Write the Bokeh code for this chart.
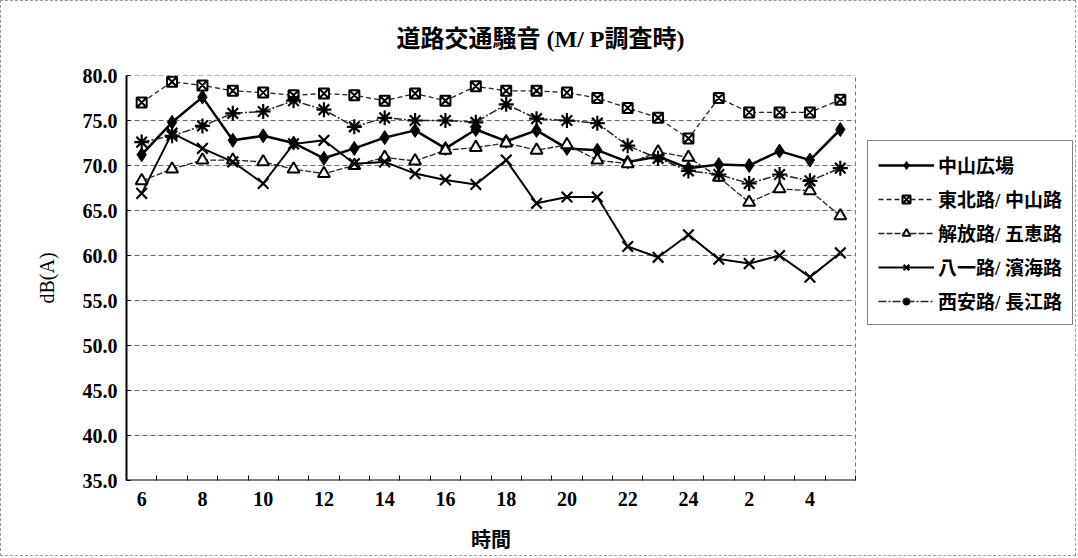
from bokeh.plotting import figure
from bokeh.models import FixedTicker, Legend, LegendItem, NumeralTickFormatter, LinearAxis
from bokeh.embed import file_html
from bokeh.resources import INLINE

hours = ["6", "7", "8", "9", "10", "11", "12", "13", "14", "15", "16", "17", "18",
         "19", "20", "21", "22", "23", "24", "1", "2", "3", "4", "5"]

chuzan = [71.2, 74.8, 77.6, 72.8, 73.3, 72.5, 70.8, 71.9, 73.1, 73.9, 71.9, 74.0,
          72.7, 73.9, 71.9, 71.7, 70.4, 71.0, 69.7, 70.1, 70.0, 71.6, 70.6, 74.0]
tohoku = [77.0, 79.3, 78.9, 78.3, 78.1, 77.8, 78.0, 77.8, 77.2, 78.0, 77.2, 78.8,
          78.3, 78.3, 78.1, 77.5, 76.4, 75.3, 73.0, 77.5, 75.9, 75.9, 75.9, 77.3]
kaiho = [68.3, 69.6, 70.6, 70.6, 70.4, 69.6, 69.1, 70.0, 70.9, 70.5, 71.7, 72.0,
         72.5, 71.7, 72.3, 70.6, 70.2, 71.5, 70.9, 68.7, 65.9, 67.4, 67.2, 64.4]
hachiichi = [66.9, 73.6, 71.9, 70.4, 68.0, 72.4, 72.8, 70.2, 70.4, 69.1, 68.4, 67.9,
             70.6, 65.8, 66.5, 66.5, 61.0, 59.8, 62.3, 59.6, 59.1, 60.0, 57.6, 60.3]
seian = [72.6, 73.3, 74.4, 75.8, 76.0, 77.2, 76.2, 74.3, 75.3, 75.0, 75.0, 74.8,
         76.8, 75.2, 75.0, 74.7, 72.2, 70.8, 69.4, 69.0, 68.0, 69.0, 68.3, 69.7]

series_names = ["中山広場", "東北路/ 中山路", "解放路/ 五恵路", "八一路/ 濱海路", "西安路/ 長江路"]
title_text = "道路交通騒音 (M/ P調査時)"
y_label = "dB(A)"
x_label = "時間"
y_ticks = [35, 40, 45, 50, 55, 60, 65, 70, 75, 80]
grid_vals = [40, 45, 50, 55, 60, 65, 70, 75, 80]

FONT = "'Liberation Serif', 'Noto Sans CJK JP', serif"

n = len(hours)
xs = list(range(n))
x_lo, x_hi = -0.5, n - 0.5

# frame: 949 px wide, data area occupies the first 729 px (legend sits to the right)
frame_w, data_w = 949, 729
x_end = x_lo + frame_w * (n / data_w)

p = figure(width=1076, height=556, output_backend="svg", toolbar_location=None,
           x_range=(x_lo, x_end), y_range=(35, 80),
           min_border_left=125, min_border_right=2, min_border_top=74,
           min_border_bottom=77)
p.background_fill_color = "white"
p.border_fill_color = "white"
p.outline_line_color = None
p.styles = {"border": "1px dashed #999999"}

# title
p.title.text = title_text
p.title.align = "left"
p.title.offset = 270
p.title.text_font = FONT
p.title.text_font_size = "24px"
p.title.text_font_style = "bold"
p.title.text_color = "black"
p.title.vertical_align = "top"
p.title.standoff = 44

# x axis (category labels, every other hour)
p.xaxis.ticker = FixedTicker(ticks=list(range(0, n, 2)),
                             minor_ticks=[i - 0.5 for i in range(n + 1)])
p.xaxis.major_label_overrides = {i: hours[i] for i in range(0, n, 2)}
p.xaxis.major_tick_in = 0
p.xaxis.major_tick_out = 0
p.xaxis.minor_tick_in = 5
p.xaxis.minor_tick_out = 0
p.xaxis.minor_tick_line_color = "black"
p.xaxis.axis_line_color = None
p.xaxis.major_label_text_font = FONT
p.xaxis.major_label_text_font_size = "20px"
p.xaxis.major_label_text_font_style = "bold"
p.xaxis.major_label_text_color = "black"
p.xaxis.major_label_standoff = 11

# second axis carrying the x title, centred under the data area
xlab_axis = LinearAxis(ticker=FixedTicker(ticks=[(x_lo + x_hi) / 2]),
                       major_label_overrides={(x_lo + x_hi) / 2: x_label},
                       axis_line_color=None, major_tick_line_color=None,
                       minor_tick_line_color=None,
                       major_label_text_font=FONT, major_label_text_font_size="20px",
                       major_label_text_font_style="bold", major_label_text_color="black",
                       major_label_standoff=14)
p.add_layout(xlab_axis, "below")

p.yaxis.ticker = FixedTicker(ticks=y_ticks)
p.yaxis.formatter = NumeralTickFormatter(format="0.0")
p.yaxis.major_tick_in = 4
p.yaxis.major_tick_out = 0
p.yaxis.minor_tick_in = 0
p.yaxis.minor_tick_out = 0
p.yaxis.axis_line_color = "black"
p.yaxis.axis_line_width = 2
p.yaxis.major_label_text_font = FONT
p.yaxis.major_label_text_font_size = "20px"
p.yaxis.major_label_text_font_style = "bold"
p.yaxis.major_label_text_color = "black"
p.yaxis.major_label_standoff = 9
p.yaxis.axis_label = y_label
p.yaxis.axis_label_text_font = FONT
p.yaxis.axis_label_text_font_size = "20px"
p.yaxis.axis_label_text_font_style = "normal"
p.yaxis.axis_label_text_color = "black"
p.yaxis.axis_label_standoff = 22

p.grid.grid_line_color = None

# plot-area grid and borders, limited to the data area
p.segment(x0=[x_lo] * len(grid_vals), y0=grid_vals, x1=[x_hi] * len(grid_vals),
          y1=grid_vals, line_color="#666666", line_dash="5 3", line_width=1)
p.segment(x0=[x_hi], y0=[35], x1=[x_hi], y1=[80], line_color="#777777",
          line_dash="4 3", line_width=1)
p.segment(x0=[x_lo], y0=[35], x1=[x_hi], y1=[35], line_color="black", line_width=2)

# series
items = []

r1 = p.line(xs, chuzan, line_color="black", line_width=2.5)
m1 = p.scatter(xs, chuzan, marker="diamond", size=14, fill_color="black", line_color="black")
items.append(LegendItem(label=series_names[0], renderers=[r1, m1]))

r2 = p.line(xs, tohoku, line_color="#222222", line_width=1.3, line_dash="5 3")
m2 = p.scatter(xs, tohoku, marker="square_x", size=10, fill_color="white",
               line_color="black", line_width=2)
items.append(LegendItem(label=series_names[1], renderers=[r2, m2]))

r3 = p.line(xs, kaiho, line_color="#222222", line_width=1.3, line_dash="6 2")
m3 = p.scatter(xs, kaiho, marker="triangle", size=12, fill_color="white",
               line_color="black", line_width=2)
items.append(LegendItem(label=series_names[2], renderers=[r3, m3]))

r4 = p.line(xs, hachiichi, line_color="black", line_width=2)
m4 = p.scatter(xs, hachiichi, marker="x", size=15, line_color="black", line_width=2.2)
items.append(LegendItem(label=series_names[3], renderers=[r4, m4]))

r5 = p.line(xs, seian, line_color="#222222", line_width=1.5, line_dash="8 2 2 2")
m5 = p.scatter(xs, seian, marker="asterisk", size=15, line_color="black", line_width=2.2)
items.append(LegendItem(label=series_names[4], renderers=[r5, m5]))

legend = Legend(items=items, location=(741, 155))
legend.label_text_font = FONT
legend.label_text_font_size = "19px"
legend.label_text_font_style = "bold"
legend.label_text_color = "black"
legend.glyph_width = 56
legend.glyph_height = 20
legend.label_height = 20
legend.label_standoff = 4
legend.spacing = 7
legend.padding = 10
legend.margin = 0
legend.border_line_color = "black"
legend.border_line_width = 1.5
legend.background_fill_alpha = 1
p.add_layout(legend, "center")

open("out.html", "w").write(file_html(p, INLINE))
